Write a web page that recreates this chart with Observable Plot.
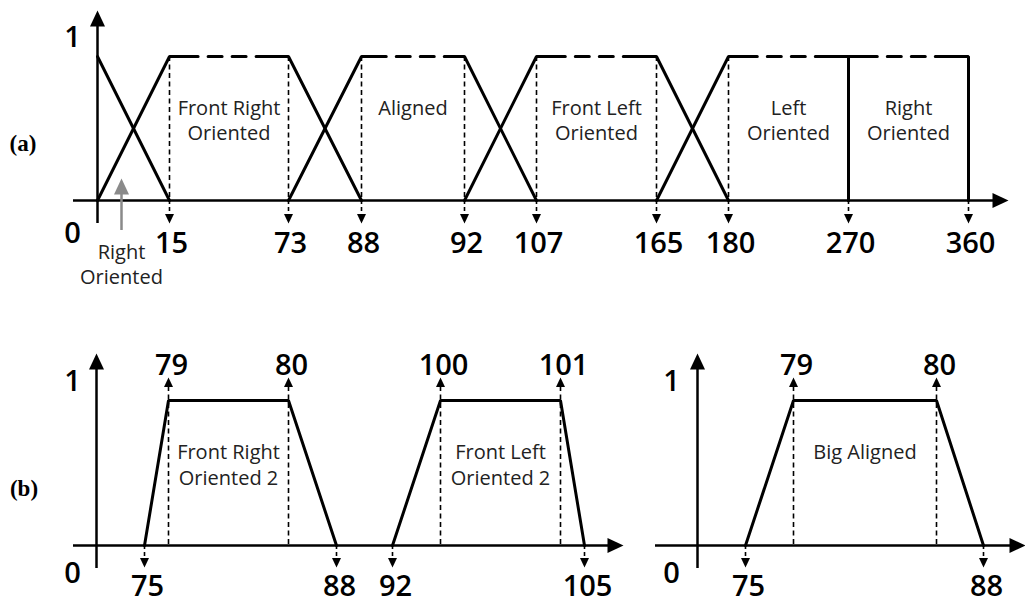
<!DOCTYPE html>
<html>
<head>
<meta charset="utf-8">
<script src="https://cdn.jsdelivr.net/npm/d3@7"></script>
<script src="https://cdn.jsdelivr.net/npm/@observablehq/plot@0.6"></script>
<style>
  html, body { margin: 0; padding: 0; background: #fff; }
  #fig { position: relative; width: 1025px; height: 604px; overflow: hidden; }
  #fig > svg { position: absolute; left: 0; top: 0; overflow: visible; max-width: none; background: transparent; }
  .tag { position: absolute; transform: translate(-50%, -50%); font-family: "Liberation Serif", serif;
         font-weight: bold; font-size: 23px; line-height: 1; color: #000; }
</style>
</head>
<body>
<div id="fig">
  <div class="tag" style="left:23px; top:143px">(a)</div>
  <div class="tag" style="left:24px; top:488px">(b)</div>
</div>
<script>
// ---- Fuzzy sets on the heading angle (degrees) ----
// (a) full range
const ticksA = [0, 15, 73, 88, 92, 107, 165, 180, 270, 360];
const namesA = ["Right\nOriented", "Front Right\nOriented", "Aligned", "Front Left\nOriented", "Left\nOriented", "Right\nOriented"];
// trapezoid corners [a, b, c, d]: membership 0 at a, 1 from b to c, 0 at d
const cornersA = [[0, 0, 0, 15], [0, 15, 73, 88], [73, 88, 92, 107], [92, 107, 165, 180], [165, 180, 270, 270], [270, 270, 360, 360]];

// (b) refined sets near the front
const ticksB1 = [0, 75, 79, 80, 88, 92, 100, 101, 105];
const namesB1 = ["Front Right\nOriented 2", "Front Left\nOriented 2"];
const cornersB1 = [[75, 79, 80, 88], [92, 100, 101, 105]];

const ticksB2 = [0, 75, 79, 80, 88];
const namesB2 = ["Big Aligned"];
const cornersB2 = [[75, 79, 80, 88]];

// ---- layout: the angle axis is schematic (piecewise), so each breakpoint gets its own spot ----
const W = 1025, H = 604;
const layoutA  = {xRange: [97, 169, 288, 361, 464, 536, 656, 728, 848, 968], yRange: [200, 56]};
const layoutB1 = {xRange: [96, 144, 168, 288, 336, 392, 440, 560, 584], yRange: [545, 400]};
const layoutB2 = {xRange: [697, 745, 793, 936, 983], yRange: [545, 400]};

const ink = "#000";
const numFont = {fontFamily: "'Open Sans', sans-serif", fontSize: 29, fontWeight: 600, fill: ink};
const nameFont = {fontFamily: "'Open Sans', sans-serif", fontSize: 20, fill: "#222", lineHeight: 1.27};

// filled arrowheads with the tip at the origin
function head(dir) {
  return {
    draw(ctx, size) {
      const r = Math.sqrt(size / Math.PI), w = 3 * r, h = 3.2 * r;
      ctx.moveTo(0, 0);
      if (dir === "up") { ctx.lineTo(w / 2, h); ctx.lineTo(-w / 2, h); }
      else if (dir === "down") { ctx.lineTo(w / 2, -h); ctx.lineTo(-w / 2, -h); }
      else { ctx.lineTo(-h, w / 2); ctx.lineTo(-h, -w / 2); }
      ctx.closePath();
    }
  };
}
const arrowUp = head("up"), arrowDown = head("down"), arrowRight = head("right");

function scales(layout, domain) {
  return {
    x: {type: "linear", domain, range: layout.xRange, axis: null},
    y: {type: "linear", domain: [0, 1], range: layout.yRange, axis: null}
  };
}

function base(layout, domain) {
  return {
    width: W, height: H, margin: 0,
    ...scales(layout, domain),
    style: {background: "transparent", overflow: "visible"}
  };
}

// both axes with arrowheads, plus the 0 / 1 membership labels
function axisMarks({xEnd, left, right, tipX, top, tipY, labelDx, zeroDy}) {
  return [
    Plot.ruleX([0], {y1: 1, y2: 0, insetTop: -top, insetBottom: -23, stroke: ink, strokeWidth: 2.5}),
    Plot.dot([0], {x: 0, y: 1, dy: -tipY, symbol: arrowUp, r: 5, fill: ink, stroke: "none"}),
    Plot.ruleY([0], {x1: 0, x2: xEnd, insetLeft: -left, insetRight: -right, stroke: ink, strokeWidth: 2.5}),
    Plot.dot([0], {x: xEnd, y: 0, dx: tipX, symbol: arrowRight, r: 5, fill: ink, stroke: "none"}),
    Plot.text(["1"], {x: 0, y: 1, dx: labelDx, dy: -19, text: d => d, ...numFont}),
    Plot.text(["0"], {x: 0, y: 0, dx: labelDx, dy: zeroDy, text: d => d, ...numFont})
  ];
}

function trapezoidPoints([a, b, c, d], i) {
  let pts = [{x: a, y: 0}, {x: b, y: 1}, {x: c, y: 1}, {x: d, y: 0}];
  if (a === 0 && b === 0) pts = pts.slice(1);           // that edge lies on the y axis
  pts = pts.filter((p, k) => k === 0 || p.x !== pts[k - 1].x || p.y !== pts[k - 1].y);
  return pts.map(p => ({...p, id: i}));
}

// ---- (a): solid slopes, dashed plateau ----
const sA = scales(layoutA, ticksA);
const sxA = Plot.scale({x: sA.x}), syA = Plot.scale({y: sA.y});
const pxLen = (p, q) => Math.hypot(sxA.apply(q.x) - sxA.apply(p.x), syA.apply(q.y) - syA.apply(p.y));

const setLinesA = cornersA.map((corner, i) => {
  const [a, b, c, d] = corner;
  const pts = trapezoidPoints(corner, i);
  const rise = (a === 0 && b === 0) ? 0 : pxLen({x: a, y: 0}, {x: b, y: 1});
  const fall = pxLen({x: c, y: 1}, {x: d, y: 0});
  const flat = pxLen({x: b, y: 1}, {x: c, y: 1});
  let dash;
  if (flat > 0) {
    const lead = 0.24 * flat, gap = 10, seg = 14;
    const tail = flat - lead - 3 * gap - 2 * seg;
    dash = [rise + lead, gap, seg, gap, seg, gap, tail + fall + 20].map(v => v.toFixed(1)).join(",");
  }
  return Plot.line(pts, {x: "x", y: "y", stroke: ink, strokeWidth: 3, strokeLinejoin: "miter",
                         strokeDasharray: dash});
});

const guidesA = cornersA.flatMap(([a, b, c, d]) => c > b ? [...(b > a ? [b] : []), ...(c < d ? [c] : [])] : []);
const downTicksA = ticksA.filter(t => t !== 0);
const labelledA = d3.range(1, cornersA.length);
const [la, , , ld] = cornersA[0];
const pointerX = la + (ld - la) / 3;

const plotA = Plot.plot({
  ...base(layoutA, ticksA),
  marks: [
    Plot.ruleX(guidesA, {y1: 1, y2: 0, stroke: ink, strokeWidth: 1.6, strokeDasharray: "5,3.5"}),
    ...setLinesA,
    ...axisMarks({xEnd: 360, left: 24, right: 27, tipX: 40, top: 32, tipY: 46, labelDx: -25, zeroDy: 33}),
    Plot.ruleX(downTicksA, {y1: 0, y2: 0, insetBottom: -13, stroke: ink, strokeWidth: 1.6, strokeDasharray: "4,3"}),
    Plot.dot(downTicksA, {x: d => d, y: 0, dy: 23, symbol: arrowDown, r: 3, fill: ink, stroke: "none"}),
    Plot.text(downTicksA, {x: d => d, y: 0, dx: 2, dy: 43, text: d => String(d), ...numFont}),
    Plot.text(labelledA, {x: i => (cornersA[i][1] + cornersA[i][2]) / 2, y: 0.72, text: i => namesA[i],
                          lineAnchor: "top", ...nameFont}),
    // pointer for the low-angle "Right Oriented" set
    Plot.ruleX([pointerX], {y1: 0, y2: 0, insetTop: -8, insetBottom: -30, stroke: "#8a8a8a", strokeWidth: 2.5}),
    Plot.dot([pointerX], {x: d => d, y: 0, dy: -22, symbol: arrowUp, r: 5, fill: "#8a8a8a", stroke: "none"}),
    Plot.text([namesA[0]], {x: pointerX, y: 0, dy: 40, text: d => d, lineAnchor: "top", ...nameFont})
  ]
});

// ---- (b): solid trapezoids with corner values above and below ----
function panelB(ticks, corners, names, layout, ax) {
  const ups = corners.flatMap(([a, b, c, d]) => [b, c]);
  const downs = corners.flatMap(([a, b, c, d]) => [a, d]);
  return Plot.plot({
    ...base(layout, ticks),
    marks: [
      Plot.ruleX(ups, {y1: 1, y2: 0, insetTop: -14, stroke: ink, strokeWidth: 1.6, strokeDasharray: "5,3.5"}),
      Plot.line(corners.flatMap(trapezoidPoints), {x: "x", y: "y", z: "id", stroke: ink, strokeWidth: 3, strokeLinejoin: "miter"}),
      ...axisMarks(ax),
      Plot.dot(ups, {x: d => d, y: 1, dy: -23, symbol: arrowUp, r: 3, fill: ink, stroke: "none"}),
      Plot.text(ups, {x: d => d, y: 1, dx: 3, dy: -35, text: d => String(d), ...numFont}),
      Plot.ruleX(downs, {y1: 0, y2: 0, insetBottom: -12, stroke: ink, strokeWidth: 1.6, strokeDasharray: "4,3"}),
      Plot.dot(downs, {x: d => d, y: 0, dy: 22, symbol: arrowDown, r: 3, fill: ink, stroke: "none"}),
      Plot.text(downs, {x: d => d, y: 0, dx: 3, dy: 41, text: d => String(d), ...numFont}),
      Plot.text(names, {x: (d, i) => (corners[i][1] + corners[i][2]) / 2, y: 0.72, text: d => d,
                        lineAnchor: "top", ...nameFont})
    ]
  });
}

const plotB1 = panelB(ticksB1, cornersB1, namesB1, layoutB1,
  {xEnd: 105, left: 23, right: 25, tipX: 39, top: 32, tipY: 47, labelDx: -24, zeroDy: 28});
const plotB2 = panelB(ticksB2, cornersB2, namesB2, layoutB2,
  {xEnd: 88, left: 42, right: 27, tipX: 42, top: 32, tipY: 47, labelDx: -26, zeroDy: 28});

const fig = document.getElementById("fig");
fig.append(plotA, plotB1, plotB2);
</script>
</body>
</html>
